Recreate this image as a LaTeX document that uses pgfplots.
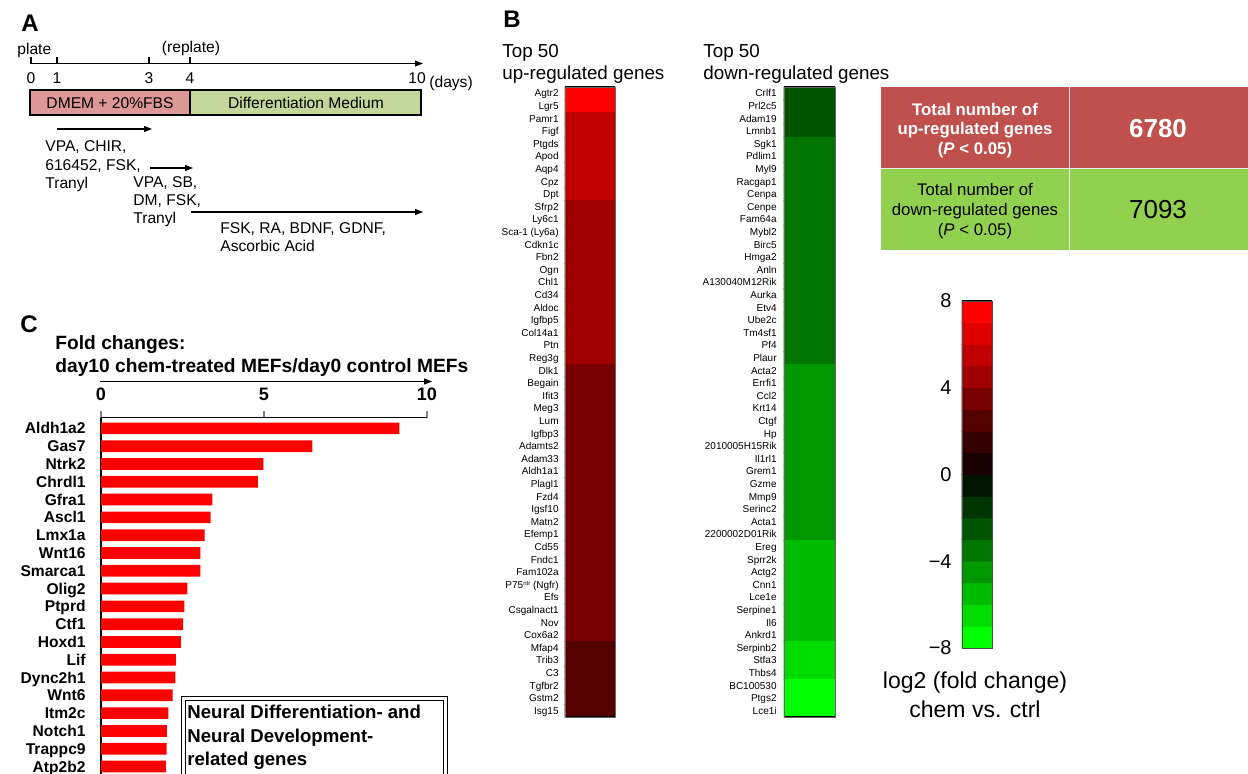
\documentclass[border=0pt]{standalone}
\usepackage{pgfplots}
\pgfplotsset{compat=1.18}
\usepackage{fontspec}
\setmainfont{Liberation Sans}
\usetikzlibrary{arrows.meta}
\newcommand\fs[1]{\fontsize{#1}{#1}\selectfont}
\definecolor{pinkc}{RGB}{221,152,150}
\definecolor{greenc}{RGB}{196,215,155}
\definecolor{tred}{RGB}{192,80,77}
\definecolor{tgreen}{RGB}{146,208,80}
\pgfplotsset{colormap={fc}{rgb255=(0,255,0) rgb255=(0,220,0) rgb255=(0,188,0) rgb255=(0,152,0) rgb255=(0,118,0) rgb255=(0,84,0) rgb255=(0,52,0) rgb255=(0,20,0) rgb255=(25,0,0) rgb255=(52,0,0) rgb255=(85,0,0) rgb255=(120,0,0) rgb255=(158,0,0) rgb255=(192,0,0) rgb255=(224,0,0) rgb255=(255,0,0)}}
\begin{document}
\begin{tikzpicture}
\path[use as bounding box] (0,0) rectangle (624pt,-386.5pt);
\clip (0,0) rectangle (624pt,-386.5pt);
\begin{scope}[x=0.5pt,y=-0.5pt]
% Panel A
\node[anchor=base west, inner sep=0pt, font=\bfseries\fs{12}] at (21,31) {A};
\draw[line width=0.6pt, -{Triangle[length=4pt,width=3pt]}] (31,63.5) -- (423,63.5);
\foreach \x in {31,57,149,190} \draw[line width=0.6pt] (\x,63.5) -- (\x,57);
\node[anchor=base west, inner sep=0pt, font=\fs{7.8}] at (17,54) {plate};
\node[anchor=base, inner sep=0pt, font=\fs{7.8}] at (191,52) {(replate)};
\foreach \x/\l in {31/0,57/1,149/3,190/4,417/10} \node[anchor=base, inner sep=0pt, font=\fs{7.8}] at (\x,83) {\l};
\node[anchor=base west, inner sep=0pt, font=\fs{7.8}] at (429,87) {(days)};
\draw[line width=0.6pt, fill=pinkc] (30,90) rectangle (190,115);
\draw[line width=0.6pt, fill=greenc] (190,90) rectangle (421,115);
\node[font=\fs{7.8}] at (110,103) {DMEM + 20\%FBS};
\node[font=\fs{7.8}] at (306,103) {Differentiation Medium};
\draw[line width=0.6pt, -{Triangle[length=4pt,width=3pt]}] (57,129) -- (152,129);
\draw[line width=0.6pt, -{Triangle[length=4pt,width=3pt]}] (150,168) -- (193,168);
\draw[line width=0.6pt, -{Triangle[length=4pt,width=3pt]}] (191,212) -- (423,212);
\node[anchor=base west, inner sep=0pt, font=\fs{7.8}] at (45,151) {VPA, CHIR,};
\node[anchor=base west, inner sep=0pt, font=\fs{7.8}] at (45,170) {616452, FSK,};
\node[anchor=base west, inner sep=0pt, font=\fs{7.8}] at (45,188) {Tranyl};
\node[anchor=base west, inner sep=0pt, font=\fs{7.8}] at (133,187) {VPA, SB,};
\node[anchor=base west, inner sep=0pt, font=\fs{7.8}] at (133,205) {DM, FSK,};
\node[anchor=base west, inner sep=0pt, font=\fs{7.8}] at (133,223) {Tranyl};
\node[anchor=base west, inner sep=0pt, font=\fs{7.8}] at (220,233) {FSK, RA, BDNF, GDNF,};
\node[anchor=base west, inner sep=0pt, font=\fs{7.8}] at (220,251) {Ascorbic Acid};
% Panel B headers
\node[anchor=base west, inner sep=0pt, font=\bfseries\fs{12}] at (503,27) {B};
\node[anchor=base west, inner sep=0pt, font=\fs{9.4}] at (502,57) {Top 50};
\node[anchor=base west, inner sep=0pt, font=\fs{9.4}] at (502,79) {up-regulated genes};
\node[anchor=base west, inner sep=0pt, font=\fs{9.4}] at (703,57) {Top 50};
\node[anchor=base west, inner sep=0pt, font=\fs{9.4}] at (703,79) {down-regulated genes};
% Table
\fill[tred] (881,87) rectangle (1250,168);
\fill[tgreen] (881,168) rectangle (1250,250);
\draw[white!85!gray, line width=0.5pt] (1069,87) -- (1069,250) (881,168) -- (1250,168);
\node[anchor=base, inner sep=0pt, white, font=\bfseries\fs{8.4}] at (975,115) {Total number of};
\node[anchor=base, inner sep=0pt, white, font=\bfseries\fs{8.4}] at (975,134) {up-regulated genes};
\node[anchor=base, inner sep=0pt, white, font=\bfseries\fs{8.4}] at (975,154) {(\textit{P} < 0.05)};
\node[anchor=base, inner sep=0pt, font=\fs{8.4}] at (975,195) {Total number of};
\node[anchor=base, inner sep=0pt, font=\fs{8.4}] at (975,215) {down-regulated genes};
\node[anchor=base, inner sep=0pt, font=\fs{8.4}] at (975,235) {(\textit{P} < 0.05)};
\node[anchor=base, inner sep=0pt, white, font=\bfseries\fs{13}] at (1158,137) {6780};
\node[anchor=base, inner sep=0pt, font=\fs{13}] at (1158,218) {7093};
% Colorbar label
\node[anchor=base, inner sep=0pt, font=\fs{11.5}] at (975,688) {log2 (fold change)};
\node[anchor=base, inner sep=0pt, font=\fs{11.5}] at (975,717) {chem vs. ctrl};
% Panel C
\node[anchor=base west, inner sep=0pt, font=\bfseries\fs{12}] at (20,332) {C};
\node[anchor=base west, inner sep=0pt, font=\bfseries\fs{9.6}] at (55,349) {Fold changes:};
\node[anchor=base west, inner sep=0pt, font=\bfseries\fs{9.6}] at (55,372) {day10 chem-treated MEFs/day0 control MEFs};
\draw[line width=0.6pt, -{Triangle[length=4pt,width=3pt]}] (100,381.5) -- (432,381.5);
\end{scope}

% Up heatmap
\begin{axis}[at={(282.5pt,-43.5pt)}, anchor=north west, scale only axis, width=25pt, height=315pt,
  xmin=-0.5, xmax=1.5, ymin=0.5, ymax=50.5, y dir=reverse,
  xtick=\empty, ytick={1,...,50}, major tick length=0pt,
  yticklabels={Agtr2, Lgr5, Pamr1, Figf, Ptgds, Apod, Aqp4, Cpz, Dpt, Sfrp2, Ly6c1, {Sca-1 (Ly6a)}, Cdkn1c, Fbn2, Ogn, Chl1, Cd34, Aldoc, Igfbp5, Col14a1, Ptn, Reg3g, Dlk1, Begain, Ifit3, Meg3, Lum, Igfbp3, Adamts2, Adam33, Aldh1a1, Plagl1, Fzd4, Igsf10, Matn2, Efemp1, Cd55, Fndc1, Fam102a, {P75\raisebox{1.6pt}{\fs{3}ntr} (Ngfr)}, Efs, Csgalnact1, Nov, Cox6a2, Mfap4, Trib3, C3, Tgfbr2, Gstm2, Isg15},
  yticklabel style={font=\fs{5}, anchor=base east, inner sep=0pt, xshift=-3pt, yshift=-1.8pt},
  colormap name=fc, point meta min=-7.5, point meta max=7.5,
  axis on top, axis line style={draw=black!60, line width=0.4pt}, clip=false]
\addplot[matrix plot*, mesh/cols=2, point meta=explicit] table[row sep=\\, x=x, y=y, meta=v]{
x y v\\
0 1 7.5\\ 1 1 7.5\\
0 2 7.5\\ 1 2 7.5\\
0 3 5.5\\ 1 3 5.5\\
0 4 5.5\\ 1 4 5.5\\
0 5 5.5\\ 1 5 5.5\\
0 6 5.5\\ 1 6 5.5\\
0 7 5.5\\ 1 7 5.5\\
0 8 5.5\\ 1 8 5.5\\
0 9 5.5\\ 1 9 5.5\\
0 10 4.5\\ 1 10 4.5\\
0 11 4.5\\ 1 11 4.5\\
0 12 4.5\\ 1 12 4.5\\
0 13 4.5\\ 1 13 4.5\\
0 14 4.5\\ 1 14 4.5\\
0 15 4.5\\ 1 15 4.5\\
0 16 4.5\\ 1 16 4.5\\
0 17 4.5\\ 1 17 4.5\\
0 18 4.5\\ 1 18 4.5\\
0 19 4.5\\ 1 19 4.5\\
0 20 4.5\\ 1 20 4.5\\
0 21 4.5\\ 1 21 4.5\\
0 22 4.5\\ 1 22 4.5\\
0 23 3.5\\ 1 23 3.5\\
0 24 3.5\\ 1 24 3.5\\
0 25 3.5\\ 1 25 3.5\\
0 26 3.5\\ 1 26 3.5\\
0 27 3.5\\ 1 27 3.5\\
0 28 3.5\\ 1 28 3.5\\
0 29 3.5\\ 1 29 3.5\\
0 30 3.5\\ 1 30 3.5\\
0 31 3.5\\ 1 31 3.5\\
0 32 3.5\\ 1 32 3.5\\
0 33 3.5\\ 1 33 3.5\\
0 34 3.5\\ 1 34 3.5\\
0 35 3.5\\ 1 35 3.5\\
0 36 3.5\\ 1 36 3.5\\
0 37 3.5\\ 1 37 3.5\\
0 38 3.5\\ 1 38 3.5\\
0 39 3.5\\ 1 39 3.5\\
0 40 3.5\\ 1 40 3.5\\
0 41 3.5\\ 1 41 3.5\\
0 42 3.5\\ 1 42 3.5\\
0 43 3.5\\ 1 43 3.5\\
0 44 3.5\\ 1 44 3.5\\
0 45 2.5\\ 1 45 2.5\\
0 46 2.5\\ 1 46 2.5\\
0 47 2.5\\ 1 47 2.5\\
0 48 2.5\\ 1 48 2.5\\
0 49 2.5\\ 1 49 2.5\\
0 50 2.5\\ 1 50 2.5\\
};
\draw[line width=1.2pt] (axis cs:-0.5,0.5) -- (axis cs:1.5,0.5);
\draw[line width=0.8pt] (axis cs:-0.5,50.5) -- (axis cs:1.5,50.5);
\end{axis}

% Down heatmap
\begin{axis}[at={(392pt,-43.5pt)}, anchor=north west, scale only axis, width=25.5pt, height=315pt,
  xmin=-0.5, xmax=1.5, ymin=0.5, ymax=50.5, y dir=reverse,
  xtick=\empty, ytick={1,...,50}, major tick length=0pt,
  yticklabels={Crlf1, Prl2c5, Adam19, Lmnb1, Sgk1, Pdlim1, Myl9, Racgap1, Cenpa, Cenpe, Fam64a, Mybl2, Birc5, Hmga2, Anln, A130040M12Rik, Aurka, Etv4, Ube2c, Tm4sf1, Pf4, Plaur, Acta2, Errfi1, Ccl2, Krt14, Ctgf, Hp, 2010005H15Rik, Il1rl1, Grem1, Gzme, Mmp9, Serinc2, Acta1, 2200002D01Rik, Ereg, Sprr2k, Actg2, Cnn1, Lce1e, Serpine1, Il6, Ankrd1, Serpinb2, Stfa3, Thbs4, BC100530, Ptgs2, Lce1i},
  yticklabel style={font=\fs{5}, anchor=base east, inner sep=0pt, xshift=-3.5pt, yshift=-1.8pt},
  colormap name=fc, point meta min=-7.5, point meta max=7.5,
  axis on top, axis line style={draw=black!60, line width=0.4pt}, clip=false]
\addplot[matrix plot*, mesh/cols=2, point meta=explicit] table[row sep=\\, x=x, y=y, meta=v]{
x y v\\
0 1 -2.5\\ 1 1 -2.5\\
0 2 -2.5\\ 1 2 -2.5\\
0 3 -2.5\\ 1 3 -2.5\\
0 4 -2.5\\ 1 4 -2.5\\
0 5 -3.5\\ 1 5 -3.5\\
0 6 -3.5\\ 1 6 -3.5\\
0 7 -3.5\\ 1 7 -3.5\\
0 8 -3.5\\ 1 8 -3.5\\
0 9 -3.5\\ 1 9 -3.5\\
0 10 -3.5\\ 1 10 -3.5\\
0 11 -3.5\\ 1 11 -3.5\\
0 12 -3.5\\ 1 12 -3.5\\
0 13 -3.5\\ 1 13 -3.5\\
0 14 -3.5\\ 1 14 -3.5\\
0 15 -3.5\\ 1 15 -3.5\\
0 16 -3.5\\ 1 16 -3.5\\
0 17 -3.5\\ 1 17 -3.5\\
0 18 -3.5\\ 1 18 -3.5\\
0 19 -3.5\\ 1 19 -3.5\\
0 20 -3.5\\ 1 20 -3.5\\
0 21 -3.5\\ 1 21 -3.5\\
0 22 -3.5\\ 1 22 -3.5\\
0 23 -4.5\\ 1 23 -4.5\\
0 24 -4.5\\ 1 24 -4.5\\
0 25 -4.5\\ 1 25 -4.5\\
0 26 -4.5\\ 1 26 -4.5\\
0 27 -4.5\\ 1 27 -4.5\\
0 28 -4.5\\ 1 28 -4.5\\
0 29 -4.5\\ 1 29 -4.5\\
0 30 -4.5\\ 1 30 -4.5\\
0 31 -4.5\\ 1 31 -4.5\\
0 32 -4.5\\ 1 32 -4.5\\
0 33 -4.5\\ 1 33 -4.5\\
0 34 -4.5\\ 1 34 -4.5\\
0 35 -4.5\\ 1 35 -4.5\\
0 36 -4.5\\ 1 36 -4.5\\
0 37 -5.5\\ 1 37 -5.5\\
0 38 -5.5\\ 1 38 -5.5\\
0 39 -5.5\\ 1 39 -5.5\\
0 40 -5.5\\ 1 40 -5.5\\
0 41 -5.5\\ 1 41 -5.5\\
0 42 -5.5\\ 1 42 -5.5\\
0 43 -5.5\\ 1 43 -5.5\\
0 44 -5.5\\ 1 44 -5.5\\
0 45 -6.5\\ 1 45 -6.5\\
0 46 -6.5\\ 1 46 -6.5\\
0 47 -6.5\\ 1 47 -6.5\\
0 48 -7.5\\ 1 48 -7.5\\
0 49 -7.5\\ 1 49 -7.5\\
0 50 -7.5\\ 1 50 -7.5\\
};
\draw[line width=1.2pt] (axis cs:-0.5,0.5) -- (axis cs:1.5,0.5);
\draw[line width=0.8pt] (axis cs:-0.5,50.5) -- (axis cs:1.5,50.5);
\end{axis}

% Colorbar
\begin{axis}[at={(481pt,-150.5pt)}, anchor=north west, scale only axis, width=15pt, height=173.5pt,
  xmin=-0.5, xmax=1.5, ymin=-8, ymax=8,
  xtick=\empty, ytick={-8,-4,0,4,8}, yticklabels={−8,−4,0,4,8}, major tick length=0pt,
  yticklabel style={font=\fs{10}, anchor=east, inner sep=0pt, xshift=-5pt},
  colormap name=fc, point meta min=-7.5, point meta max=7.5,
  axis on top, axis line style={draw=black!70, line width=0.5pt}, clip=false]
\addplot[matrix plot*, mesh/cols=2, point meta=explicit] table[row sep=\\, x=x, y=y, meta=v]{
x y v\\
0 -7.5 -7.5\\ 1 -7.5 -7.5\\
0 -6.5 -6.5\\ 1 -6.5 -6.5\\
0 -5.5 -5.5\\ 1 -5.5 -5.5\\
0 -4.5 -4.5\\ 1 -4.5 -4.5\\
0 -3.5 -3.5\\ 1 -3.5 -3.5\\
0 -2.5 -2.5\\ 1 -2.5 -2.5\\
0 -1.5 -1.5\\ 1 -1.5 -1.5\\
0 -0.5 -0.5\\ 1 -0.5 -0.5\\
0 0.5 0.5\\ 1 0.5 0.5\\
0 1.5 1.5\\ 1 1.5 1.5\\
0 2.5 2.5\\ 1 2.5 2.5\\
0 3.5 3.5\\ 1 3.5 3.5\\
0 4.5 4.5\\ 1 4.5 4.5\\
0 5.5 5.5\\ 1 5.5 5.5\\
0 6.5 6.5\\ 1 6.5 6.5\\
0 7.5 7.5\\ 1 7.5 7.5\\
};
\draw[line width=1.2pt] (axis cs:-0.5,8) -- (axis cs:1.5,8);
\end{axis}

% Bar chart
\begin{axis}[at={(50.5pt,-208.85pt)}, anchor=north west, scale only axis, width=163pt, height=192.2pt,
  xmin=0, xmax=10, ymin=0.4, ymax=22, y dir=reverse,
  axis x line*=top, axis y line*=left, x axis line style={-}, y axis line style={-},
  axis line style={line width=0.6pt},
  xbar, bar width=5.85pt,
  xtick={0,5,10}, ytick={1,...,20},
  yticklabels={Aldh1a2, Gas7, Ntrk2, Chrdl1, Gfra1, Ascl1, Lmx1a, Wnt16, Smarca1, Olig2, Ptprd, Ctf1, Hoxd1, Lif, Dync2h1, Wnt6, Itm2c, Notch1, Trappc9, Atp2b2},
  tick align=outside, major tick length=3.5pt, ytick style={draw=none}, xtick style={line width=0.6pt},
  /pgf/number format/assume math mode=true,
  xticklabel style={font=\bfseries\fs{9}, yshift=1.5pt},
  yticklabel style={font=\bfseries\fs{7.8}, anchor=base east, inner sep=0pt, xshift=-4pt, yshift=-2.8pt},
  clip=false]
\addplot[fill=red, draw=none] coordinates {(9.15,1) (6.48,2) (4.98,3) (4.81,4) (3.42,5) (3.36,6) (3.18,7) (3.05,8) (3.05,9) (2.65,10) (2.56,11) (2.52,12) (2.45,13) (2.30,14) (2.28,15) (2.20,16) (2.07,17) (2.02,18) (2.01,19) (1.99,20)};
\end{axis}

\begin{scope}[x=0.5pt,y=-0.5pt]
\draw[fill=white, double, double distance=1.5pt, line width=0.5pt] (183,698) rectangle (445,820);
\node[anchor=base west, inner sep=0pt, font=\bfseries\fs{9.3}] at (187,718) {Neural Differentiation- and};
\node[anchor=base west, inner sep=0pt, font=\bfseries\fs{9.3}] at (187,742) {Neural Development-};
\node[anchor=base west, inner sep=0pt, font=\bfseries\fs{9.3}] at (187,765) {related genes};
\end{scope}
\end{tikzpicture}
\end{document}
